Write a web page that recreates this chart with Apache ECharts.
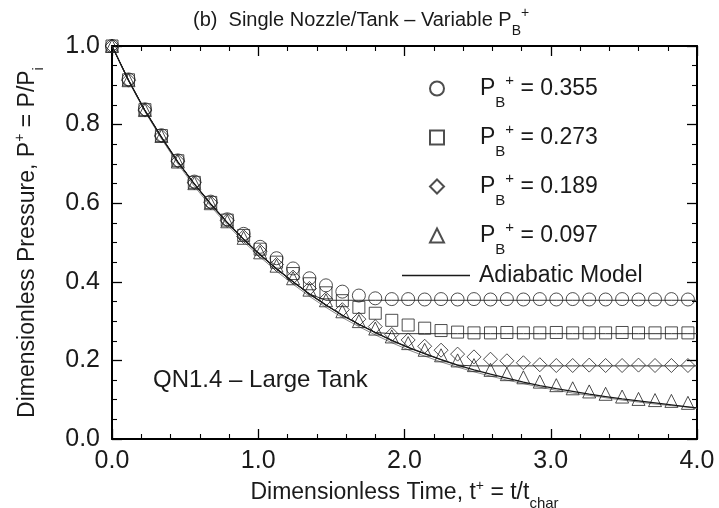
<!DOCTYPE html>
<html><head><meta charset="utf-8">
<script src="https://cdn.jsdelivr.net/npm/echarts/dist/echarts.min.js"></script>
<style>html,body{margin:0;padding:0;background:#fff}#c{width:719px;height:508px}</style>
</head><body><div id="c"></div>
<script>
// ---- data ----
const times = [0.000,0.113,0.225,0.338,0.450,0.563,0.675,0.788,0.900,1.013,1.125,1.238,1.350,1.463,1.575,1.688,1.800,1.913,2.025,2.138,2.250,2.363,2.475,2.588,2.700,2.813,2.925,3.038,3.150,3.263,3.375,3.488,3.600,3.713,3.825,3.938];
const pb355 = [1.000,0.915,0.839,0.773,0.709,0.655,0.604,0.559,0.522,0.489,0.460,0.434,0.409,0.391,0.375,0.365,0.358,0.356,0.356,0.355,0.356,0.355,0.356,0.355,0.356,0.355,0.356,0.355,0.356,0.355,0.355,0.356,0.355,0.355,0.356,0.355];
const pb273 = [1.000,0.914,0.838,0.772,0.708,0.653,0.602,0.557,0.518,0.483,0.450,0.421,0.395,0.372,0.352,0.335,0.320,0.302,0.290,0.282,0.276,0.272,0.270,0.270,0.271,0.270,0.270,0.271,0.270,0.270,0.270,0.271,0.270,0.270,0.270,0.270];
const pb189 = [1.000,0.913,0.837,0.771,0.707,0.652,0.601,0.556,0.515,0.478,0.444,0.412,0.383,0.356,0.329,0.305,0.286,0.266,0.252,0.236,0.226,0.216,0.209,0.203,0.199,0.194,0.189,0.187,0.187,0.188,0.187,0.187,0.188,0.187,0.187,0.187];
const pb097 = [1.000,0.913,0.837,0.771,0.706,0.651,0.600,0.554,0.512,0.475,0.441,0.409,0.380,0.353,0.325,0.300,0.281,0.261,0.244,0.227,0.213,0.200,0.188,0.176,0.165,0.157,0.146,0.137,0.129,0.121,0.115,0.108,0.102,0.099,0.097,0.092];

const modelTimes = [0.000,0.113,0.225,0.338,0.450,0.563,0.675,0.788,0.900,1.013,1.125,1.238,1.350,1.463,1.575,1.688,1.800,1.913,2.025,2.138,2.250,2.363,2.475,2.588,2.700,2.813,2.925,3.038,3.150,3.263,3.375,3.488,3.600,3.713,3.825,3.938,4.000];
const modelMain = [1.000,0.913,0.836,0.768,0.705,0.649,0.598,0.551,0.508,0.469,0.433,0.400,0.369,0.341,0.315,0.292,0.271,0.251,0.233,0.217,0.202,0.188,0.176,0.165,0.155,0.145,0.136,0.128,0.121,0.114,0.108,0.102,0.097,0.092,0.087,0.082,0.079];
const modelGray = [1.000,0.911,0.833,0.764,0.700,0.643,0.592,0.545,0.502,0.463,0.427,0.394,0.363,0.335,0.309,0.286,0.265,0.245,0.227,0.211,0.196,0.183,0.171,0.160,0.150,0.141,0.132,0.124,0.117,0.111,0.105,0.099,0.094,0.089,0.085,0.081,0.078];
const plateauLevels = [0.353, 0.268, 0.186];

const seriesNames = ['0.355','0.273','0.189','0.097'];
const seriesSymbols = ['circle','rect','diamond','triangle'];
const xTicks = ['0.0','1.0','2.0','3.0','4.0'];
const yTicks = ['0.0','0.2','0.4','0.6','0.8','1.0'];

// ---- chart ----
const FF = 'Liberation Sans, Arial, Helvetica, sans-serif';
const INK = '#1a1a1a';
const chart = echarts.init(document.getElementById('c'), null, {renderer:'canvas'});

const markerSets = [pb355, pb273, pb189, pb097];
const sizes = [13, 12, 14, 13];
const scatterSeries = markerSets.map((vals, i) => ({
  name: seriesNames[i], type: 'scatter', symbol: seriesSymbols[i], symbolSize: sizes[i],
  data: times.map((t, j) => [t, vals[j]]),
  itemStyle: {color: 'rgba(255,255,255,0)', borderColor: '#222', borderWidth: 1},
  z: 3, silent: true
}));

const mainData = modelTimes.map((t, j) => [t, modelMain[j]]);
const lineSeries = [
  {name: 'Adiabatic Model', type: 'line', symbol: 'none', showSymbol: false, data: mainData,
   itemStyle: {color: INK},
   lineStyle: {color: INK, width: 1.3}, z: 4, silent: true},
  {name: 'Adiabatic Model', type: 'line', symbol: 'none', showSymbol: false,
   data: modelTimes.map((t, j) => [t, modelGray[j]]),
   itemStyle: {color: '#8a8a8a'},
   lineStyle: {color: '#8a8a8a', width: 1}, z: 2, silent: true}
].concat(plateauLevels.map(lv => ({
  name: 'Adiabatic Model', type: 'line', symbol: 'none', showSymbol: false,
  data: modelTimes.map((t, j) => [t, Math.max(modelMain[j], lv)]),
  itemStyle: {color: '#333'},
  lineStyle: {color: '#333', width: 1}, z: 2, silent: true
})));

const richBase = {
  p: {fontSize: 23, fontFamily: FF, color: INK},
  b: {fontSize: 15, fontFamily: FF, color: INK, padding: [28, 0, 0, 0]},
  s: {fontSize: 15, fontFamily: FF, color: INK, padding: [0, 0, 16, 0]},
  v: {fontSize: 23, fontFamily: FF, color: INK}
};

function axisCommon(extra) {
  return Object.assign({
    type: 'value',
    axisLine: {show: true, onZero: false, lineStyle: {color: '#000', width: 2}},
    axisTick: {show: true, inside: true, length: 10, lineStyle: {color: '#000', width: 1.3}},
    minorTick: {show: true, length: 5, lineStyle: {color: '#000', width: 1.1}},
    splitLine: {show: false}, minorSplitLine: {show: false}
  }, extra);
}

const option = {
  animation: false,
  backgroundColor: '#fff',
  textStyle: {fontFamily: FF},
  title: {
    text: '(b)  Single Nozzle/Tank – Variable {p|P}{b|B}{s|+}',
    left: 188, top: -3,
    textStyle: {fontSize: 20, fontWeight: 'normal', color: INK, fontFamily: FF,
      rich: {
        p: {fontSize: 20, fontFamily: FF, color: INK},
        b: {fontSize: 14, fontFamily: FF, color: INK, padding: [22, 0, 0, 0]},
        s: {fontSize: 14, fontFamily: FF, color: INK, padding: [0, 0, 14, 0]}
      }}
  },
  grid: {left: 112, right: 22, top: 46, bottom: 69, containLabel: false, outerBoundsMode: 'none'},
  legend: [
    {
      data: seriesNames, orient: 'vertical', left: 424, top: 68,
      itemWidth: 14, itemHeight: 14, itemGap: 12, selectedMode: false,
      formatter: name => '{p|P}{b|B}{s|+}{v| = ' + name + '}',
      textStyle: {fontFamily: FF, rich: Object.assign({}, richBase, {
        p: {fontSize: 23, fontFamily: FF, color: INK, padding: [0, 0, 0, 31]}
      })}
    },
    {
      data: [{name: 'Adiabatic Model', icon: 'rect'}], orient: 'vertical', left: 397, top: 259,
      itemWidth: 68, itemHeight: 1.4, selectedMode: false,
      itemStyle: {color: INK, borderWidth: 0},
      formatter: name => '{v|' + name + '}',
      textStyle: {fontFamily: FF, rich: {v: {fontSize: 23, fontFamily: FF, color: INK, padding: [0, 0, 0, 4]}}}
    }
  ],
  xAxis: [
    axisCommon({
      position: 'bottom', min: 0, max: 4, interval: 1,
      minorTick: {show: true, splitNumber: 5, length: 5, lineStyle: {color: '#000', width: 1.1}},
      axisLabel: {show: true, margin: 10, fontSize: 25, color: INK, fontFamily: FF,
        formatter: v => xTicks[Math.round(v)]},
      name: 'Dimensionless Time, t{s|+} = t/t{b|char}', nameLocation: 'middle', nameGap: 27,
      nameTextStyle: {fontSize: 23, color: INK, fontFamily: FF, rich: {
        s: {fontSize: 14, fontFamily: FF, color: INK, padding: [0, 0, 14, 0]},
        b: {fontSize: 15, fontFamily: FF, color: INK, padding: [22, 0, 0, 0]}
      }}
    }),
    axisCommon({
      position: 'top', min: 0, max: 4, interval: 1,
      minorTick: {show: true, splitNumber: 5, length: 5, lineStyle: {color: '#000', width: 1.1}},
      axisLabel: {show: false}
    })
  ],
  yAxis: [
    axisCommon({
      position: 'left', min: 0, max: 1, interval: 0.2,
      minorTick: {show: true, splitNumber: 4, length: 5, lineStyle: {color: '#000', width: 1.1}},
      axisLabel: {show: true, margin: 12, fontSize: 25, color: INK, fontFamily: FF,
        formatter: v => yTicks[Math.round(v * 5)]},
      name: 'Dimensionless Pressure, P{s|+} = P/P{b|i}', nameLocation: 'middle', nameGap: 66,
      nameTextStyle: {fontSize: 23, color: INK, fontFamily: FF, rich: {
        s: {fontSize: 14, fontFamily: FF, color: INK, padding: [0, 0, 14, 0]},
        b: {fontSize: 15, fontFamily: FF, color: INK, padding: [22, 0, 0, 0]}
      }}
    }),
    axisCommon({
      position: 'right', min: 0, max: 1, interval: 0.2,
      minorTick: {show: true, splitNumber: 4, length: 5, lineStyle: {color: '#000', width: 1.1}},
      axisLabel: {show: false}
    })
  ],
  graphic: [{
    type: 'text', left: 153, top: 368, silent: true,
    style: {text: 'QN1.4 – Large Tank', fontSize: 24, fontFamily: FF, fill: INK}
  }],
  series: scatterSeries.concat(lineSeries)
};
chart.setOption(option);
</script></body></html>
